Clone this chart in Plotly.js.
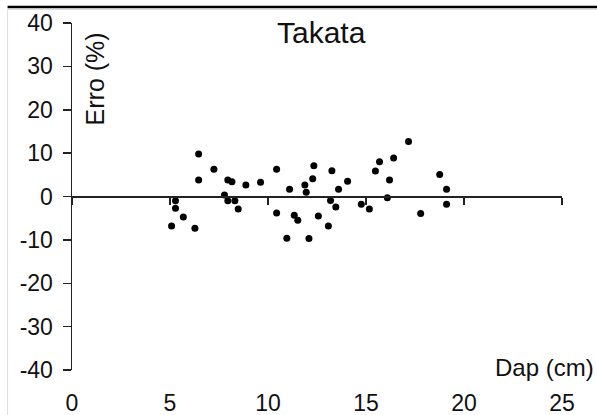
<!DOCTYPE html>
<html>
<head>
<meta charset="utf-8">
<script src="https://cdn.plot.ly/plotly-3.0.1.min.js"></script>
<style>html,body{margin:0;padding:0;background:#fff;}#chart{width:597px;height:415px;}</style>
</head>
<body>
<div id="chart"></div>
<script>
// Data
const chartTitle = "Takata";
const xTitle = "Dap (cm)";
const yTitle = "Erro (%)";
const dap = [5.08, 5.28, 5.28, 5.68, 6.27, 6.46, 6.46, 7.24, 7.78, 7.95, 7.95, 8.16, 8.31, 8.48, 8.87, 9.62,
  10.44, 10.44, 10.96, 11.10, 11.34, 11.52, 11.88, 11.95, 12.09, 12.28, 12.34, 12.57, 13.08, 13.19, 13.26,
  13.46, 13.60, 14.06, 14.76, 15.17, 15.48, 15.69, 16.09, 16.20, 16.41, 17.17, 17.79, 18.76, 19.11, 19.11];
const erro = [-6.8, -1.0, -2.7, -4.7, -7.3, 9.8, 3.8, 6.3, 0.35, 3.8, -1.0, 3.4, -1.0, -2.9, 2.65, 3.3,
  6.3, -3.8, -9.6, 1.7, -4.3, -5.5, 2.65, 0.97, -9.7, 4.1, 7.1, -4.5, -6.8, -0.9, 5.95,
  -2.4, 1.7, 3.5, -1.8, -2.9, 5.9, 8.0, -0.3, 3.8, 8.9, 12.7, -3.9, 5.1, 1.7, -1.8];
const xTicks = [0, 5, 10, 15, 20, 25];
const yTicks = [-40, -30, -20, -10, 0, 10, 20, 30, 40];

const font = "Liberation Sans, Arial, sans-serif";
const traces = [
  {x: dap, y: erro, type: "scatter", mode: "markers", xaxis: "x", yaxis: "y",
   marker: {color: "#000", size: 7}, hoverinfo: "skip", showlegend: false},
  {x: [], y: [], type: "scatter", mode: "markers", xaxis: "x2", yaxis: "y", showlegend: false}
];
const layout = {
  width: 597, height: 415,
  margin: {l: 72, r: 35, t: 23, b: 45},
  paper_bgcolor: "#fff", plot_bgcolor: "#fff",
  font: {family: font, color: "#111", size: 23},
  showlegend: false,
  title: {text: chartTitle, font: {family: font, size: 30, color: "#111"},
          xref: "container", x: 0.538, xanchor: "center", yref: "container", y: 0.922, yanchor: "middle"},
  xaxis: {range: [0, 25], tickvals: xTicks, ticktext: xTicks.map(String), anchor: "free", position: 0.5,
          showline: true, linecolor: "#222", linewidth: 2.5, ticks: "outside", ticklen: 7, tickwidth: 1.5,
          tickcolor: "#222", showticklabels: false, showgrid: false, zeroline: false, fixedrange: true},
  xaxis2: {range: [0, 25], overlaying: "x", anchor: "y", side: "bottom", tickvals: xTicks, ticktext: xTicks.map(String),
           showline: false, ticks: "", showticklabels: true, ticklabelstandoff: 17,
           tickfont: {family: font, size: 23, color: "#111"}, showgrid: false, zeroline: false, fixedrange: true},
  yaxis: {range: [-40, 40], tickvals: yTicks, ticktext: yTicks.map(String), showline: true, linecolor: "#222",
          linewidth: 1.5, ticks: "outside", ticklen: 8, tickwidth: 1.5, tickcolor: "#222",
          tickfont: {family: font, size: 23, color: "#111"}, ticklabelstandoff: 5,
          showgrid: false, zeroline: false, fixedrange: true},
  annotations: [
    {text: yTitle, xref: "paper", yref: "paper", x: 0.046, y: 0.839, xanchor: "center", yanchor: "middle",
     textangle: -90, showarrow: false, font: {family: font, size: 25, color: "#111"}},
    {text: xTitle, xref: "paper", yref: "paper", x: 0.965, y: 0.006, xanchor: "center", yanchor: "middle",
     showarrow: false, font: {family: font, size: 24, color: "#111"}}
  ],
  shapes: [
    {type: "line", xref: "paper", yref: "paper", x0: -0.1315, x1: 1.08, y0: 1.046, y1: 1.046,
     line: {color: "#000", width: 2.5}},
    {type: "line", xref: "paper", yref: "paper", x0: -0.1315, x1: 1.08, y0: 1.039, y1: 1.039,
     line: {color: "#ddd", width: 1}},
    {type: "line", xref: "paper", yref: "paper", x0: -0.1315, x1: -0.1315, y0: 1.039, y1: -0.2,
     line: {color: "#ddd", width: 1}}
  ]
};
Plotly.newPlot("chart", traces, layout, {displayModeBar: false, staticPlot: true});
</script>
</body>
</html>
